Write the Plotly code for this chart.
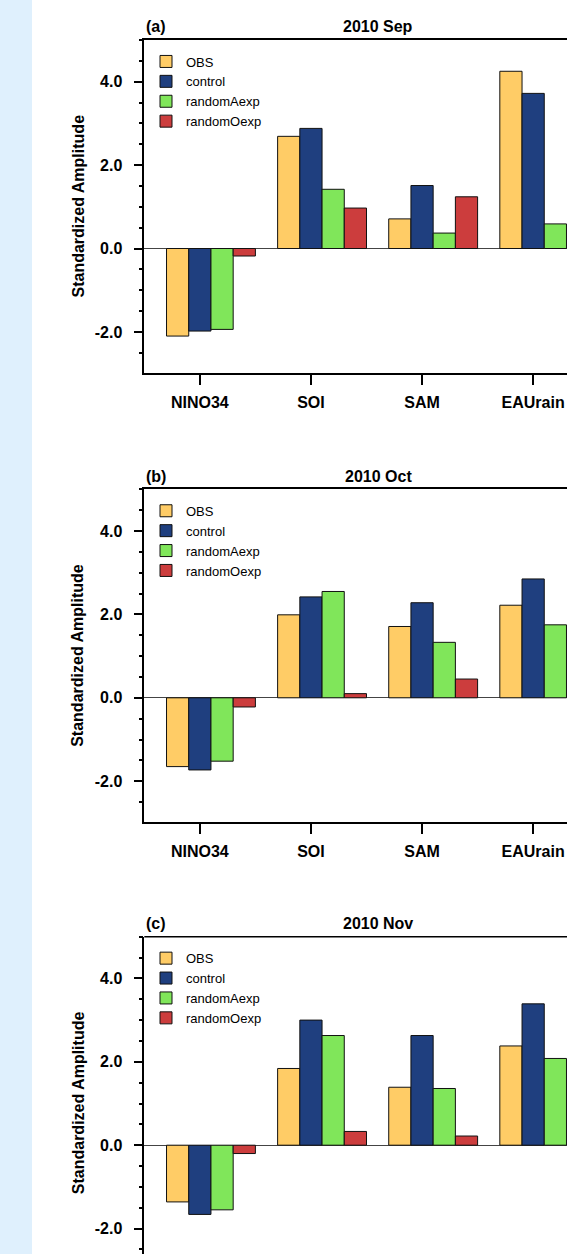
import plotly.graph_objects as go

W, H = 567, 1254

categories = ["NINO34", "SOI", "SAM", "EAUrain"]
series_names = ["OBS", "control", "randomAexp", "randomOexp"]
series_colors = ["#FFCC66", "#1F3F7F", "#80E65A", "#CC3D3D"]

panel_labels = ["(a)", "(b)", "(c)"]
panel_titles = ["2010 Sep", "2010 Oct", "2010 Nov"]

# values per panel, per series (order: NINO34, SOI, SAM, EAUrain)
sep_obs = [-2.10, 2.69, 0.71, 4.25]
sep_control = [-1.98, 2.88, 1.51, 3.72]
sep_randomA = [-1.94, 1.42, 0.37, 0.59]
sep_randomO = [-0.18, 0.97, 1.24, None]

oct_obs = [-1.65, 1.99, 1.71, 2.22]
oct_control = [-1.73, 2.42, 2.28, 2.85]
oct_randomA = [-1.52, 2.55, 1.33, 1.75]
oct_randomO = [-0.22, 0.10, 0.45, None]

nov_obs = [-1.36, 1.84, 1.39, 2.38]
nov_control = [-1.66, 3.00, 2.63, 3.39]
nov_randomA = [-1.55, 2.63, 1.36, 2.08]
nov_randomO = [-0.20, 0.33, 0.22, None]

panels = [
    [sep_obs, sep_control, sep_randomA, sep_randomO],
    [oct_obs, oct_control, oct_randomA, oct_randomO],
    [nov_obs, nov_control, nov_randomA, nov_randomO],
]

y_major = [-2, 0, 2, 4]
y_major_text = ["-2.0", "0.0", "2.0", "4.0"]

# layout in pixels
plot_left = 144.3
panel_tops = [40.0, 489.3, 936.7]
panel_h = 333.0
px_per_unit = 41.7
bar_w = 0.2
bar_offsets = [-0.3, -0.1, 0.1, 0.3]

FONT = "Liberation Sans, Arial, Helvetica, sans-serif"

fig = go.Figure()

for p, vals in enumerate(panels):
    xa = "x" if p == 0 else f"x{p+1}"
    ya = "y" if p == 0 else f"y{p+1}"
    lg = "legend" if p == 0 else f"legend{p+1}"
    for j, name in enumerate(series_names):
        fig.add_trace(go.Bar(
            x=categories, y=vals[j], name=name,
            width=bar_w, offset=bar_offsets[j],
            marker=dict(color=series_colors[j], line=dict(color="#111111", width=1)),
            xaxis=xa, yaxis=ya, legend=lg, showlegend=True,
            hoverinfo="skip",
        ))

layout = dict(
    width=W, height=H,
    margin=dict(l=0, r=0, t=0, b=0),
    paper_bgcolor="white", plot_bgcolor="white",
    barmode="overlay",
    font=dict(family=FONT, color="black"),
)

annotations = []
shapes = [dict(type="rect", xref="paper", yref="paper", x0=0, x1=32 / W, y0=0, y1=1,
               fillcolor="#DFF0FD", line=dict(width=0), layer="below")]

x_range_end = -0.5 + (W - plot_left) / 111.1

for p in range(3):
    top = panel_tops[p]
    bottom = min(top + panel_h, H)
    y_low = 5 - (bottom - top) / px_per_unit
    sfx = "" if p == 0 else str(p + 1)
    last = (p == 2)
    layout[f"xaxis{sfx}"] = dict(
        domain=[plot_left / W, 1],
        anchor=f"y{sfx}",
        range=[-0.5, x_range_end],
        type="category",
        showline=not last, linecolor="black", linewidth=1.5, mirror=True,
        ticks="" if last else "outside", ticklen=10, tickwidth=1.5, tickcolor="black",
        showticklabels=not last,
        tickfont=dict(family=FONT, size=16, color="black", weight="bold"),
        ticklabelstandoff=4,
        showgrid=False, zeroline=False, fixedrange=True,
    )
    layout[f"yaxis{sfx}"] = dict(
        domain=[1 - bottom / H, 1 - top / H],
        anchor=f"x{sfx}",
        range=[y_low, 5],
        showline=True, linecolor="black", linewidth=1.5, mirror=False,
        tickmode="array", tickvals=y_major, ticktext=y_major_text,
        ticks="outside", ticklen=9, tickwidth=1.5, tickcolor="black",
        minor=dict(dtick=0.5, tick0=0, ticks="outside", ticklen=4, tickwidth=1.5,
                   tickcolor="black", showgrid=False),
        tickfont=dict(family=FONT, size=16, color="black", weight="bold"),
        ticklabelstandoff=8,
        showgrid=False,
        zeroline=True, zerolinecolor="#444444", zerolinewidth=1.2,
        fixedrange=True,
    )
    if last:
        shapes.append(dict(type="line", xref="x3 domain", yref="y3 domain",
                           x0=0, x1=1, y0=1, y1=1,
                           line=dict(color="black", width=1.5)))
    # legend
    lg = "legend" if p == 0 else f"legend{p+1}"
    layout[lg] = dict(
        x=146 / W, xanchor="left",
        y=1 - (top + 6.5) / H, yanchor="top",
        bgcolor="rgba(0,0,0,0)", borderwidth=0,
        font=dict(family=FONT, size=13, color="black"),
        tracegroupgap=0, itemclick=False, itemdoubleclick=False,
        traceorder="normal",
    )
    # titles
    title_y = 1 - (top - 13) / H
    annotations.append(dict(text=panel_labels[p], xref="paper", yref="paper",
                            x=plot_left / W, y=title_y, xanchor="left", yanchor="middle",
                            showarrow=False,
                            font=dict(family=FONT, size=16, color="black", weight="bold")))
    annotations.append(dict(text=panel_titles[p], xref="paper", yref="paper",
                            x=378 / W, y=title_y, xanchor="center", yanchor="middle",
                            showarrow=False,
                            font=dict(family=FONT, size=16, color="black", weight="bold")))
    # y title centred on full panel height
    ymid = top + panel_h / 2
    annotations.append(dict(text="Standardized Amplitude", xref="paper", yref="paper",
                            x=78 / W, y=1 - ymid / H, xanchor="center", yanchor="middle",
                            textangle=-90, showarrow=False,
                            font=dict(family=FONT, size=16, color="black", weight="bold")))

layout["annotations"] = annotations
layout["shapes"] = shapes
fig.update_layout(**layout)

fig.write_html(
    "out.html",
    config={"displayModeBar": False},
    post_script="document.body.style.margin='0';document.body.style.padding='0';"
                "document.documentElement.style.overflow='hidden';",
)
